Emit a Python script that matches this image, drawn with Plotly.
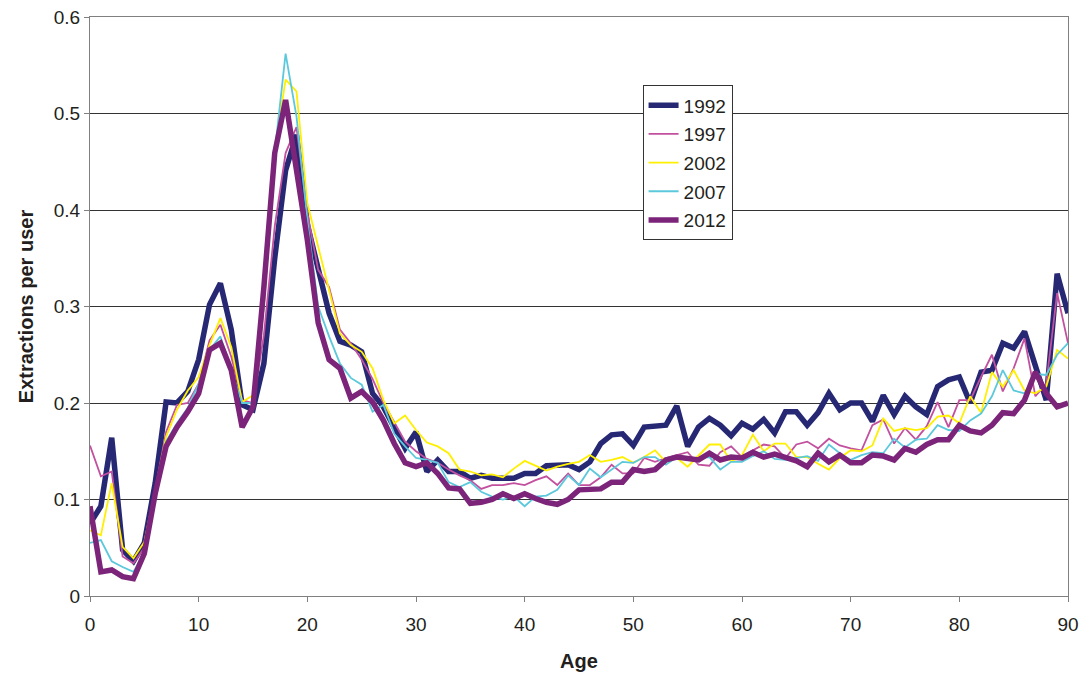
import plotly.graph_objects as go

ages = list(range(0, 91))

y1992 = [0.075, 0.093, 0.164, 0.048, 0.036, 0.055, 0.117, 0.201, 0.200, 0.212,
         0.245, 0.302, 0.324, 0.276, 0.198, 0.193, 0.241, 0.350, 0.441, 0.478,
         0.385, 0.341, 0.293, 0.264, 0.260, 0.253, 0.210, 0.196, 0.174, 0.153,
         0.170, 0.129, 0.141, 0.129, 0.129, 0.122, 0.125, 0.122, 0.122, 0.122,
         0.127, 0.127, 0.135, 0.135, 0.136, 0.131, 0.139, 0.158, 0.167, 0.168,
         0.156, 0.175, 0.176, 0.177, 0.197, 0.155, 0.175, 0.184, 0.177, 0.166,
         0.179, 0.173, 0.183, 0.169, 0.191, 0.191, 0.177, 0.190, 0.210, 0.193,
         0.200, 0.200, 0.181, 0.208, 0.188, 0.207, 0.196, 0.188, 0.217, 0.224,
         0.227, 0.200, 0.232, 0.234, 0.262, 0.257, 0.274, 0.238, 0.203, 0.334,
         0.293]

y1997 = [0.156, 0.124, 0.129, 0.041, 0.034, 0.050, 0.110, 0.170, 0.198, 0.200,
         0.220, 0.265, 0.281, 0.248, 0.203, 0.200, 0.270, 0.383, 0.459, 0.486,
         0.397, 0.338, 0.320, 0.276, 0.262, 0.245, 0.225, 0.200, 0.180, 0.160,
         0.150, 0.142, 0.138, 0.131, 0.125, 0.120, 0.111, 0.115, 0.115, 0.117,
         0.115, 0.120, 0.124, 0.115, 0.127, 0.115, 0.115, 0.123, 0.136, 0.127,
         0.127, 0.143, 0.139, 0.143, 0.146, 0.149, 0.136, 0.135, 0.149, 0.155,
         0.144, 0.151, 0.157, 0.155, 0.143, 0.157, 0.160, 0.153, 0.163, 0.156,
         0.153, 0.151, 0.177, 0.183, 0.158, 0.174, 0.162, 0.176, 0.201, 0.175,
         0.203, 0.203, 0.227, 0.250, 0.212, 0.236, 0.267, 0.207, 0.220, 0.314,
         0.262]

y2002 = [0.068, 0.063, 0.117, 0.051, 0.039, 0.056, 0.110, 0.165, 0.193, 0.213,
         0.227, 0.260, 0.288, 0.258, 0.201, 0.208, 0.300, 0.462, 0.535, 0.523,
         0.407, 0.362, 0.320, 0.272, 0.260, 0.253, 0.236, 0.203, 0.179, 0.187,
         0.172, 0.159, 0.155, 0.148, 0.131, 0.129, 0.125, 0.126, 0.123, 0.132,
         0.140, 0.135, 0.130, 0.134, 0.137, 0.139, 0.146, 0.139, 0.141, 0.144,
         0.138, 0.144, 0.151, 0.139, 0.143, 0.134, 0.146, 0.157, 0.157, 0.139,
         0.146, 0.167, 0.150, 0.158, 0.158, 0.144, 0.144, 0.137, 0.131, 0.143,
         0.151, 0.150, 0.156, 0.184, 0.171, 0.174, 0.172, 0.174, 0.186, 0.187,
         0.179, 0.207, 0.190, 0.232, 0.217, 0.234, 0.213, 0.210, 0.217, 0.255,
         0.246]

y2007 = [0.055, 0.058, 0.036, 0.030, 0.025, 0.045, 0.105, 0.160, 0.179, 0.195,
         0.220, 0.255, 0.269, 0.234, 0.200, 0.200, 0.300, 0.460, 0.562, 0.497,
         0.390, 0.300, 0.269, 0.241, 0.226, 0.219, 0.191, 0.198, 0.168, 0.155,
         0.143, 0.141, 0.138, 0.118, 0.113, 0.118, 0.108, 0.103, 0.100, 0.103,
         0.093, 0.103, 0.104, 0.110, 0.125, 0.115, 0.132, 0.123, 0.131, 0.139,
         0.138, 0.144, 0.144, 0.136, 0.144, 0.143, 0.143, 0.144, 0.131, 0.139,
         0.139, 0.145, 0.150, 0.142, 0.141, 0.143, 0.145, 0.140, 0.157, 0.148,
         0.141, 0.146, 0.149, 0.148, 0.163, 0.154, 0.162, 0.163, 0.177, 0.172,
         0.171, 0.182, 0.189, 0.207, 0.234, 0.213, 0.210, 0.230, 0.229, 0.250,
         0.262]

y2012 = [0.093, 0.025, 0.027, 0.020, 0.018, 0.044, 0.106, 0.155, 0.175, 0.191,
         0.210, 0.255, 0.262, 0.234, 0.175, 0.196, 0.320, 0.459, 0.514, 0.440,
         0.369, 0.283, 0.245, 0.236, 0.205, 0.212, 0.201, 0.182, 0.158, 0.138,
         0.134, 0.138, 0.127, 0.112, 0.111, 0.096, 0.097, 0.100, 0.106, 0.101,
         0.106, 0.101, 0.097, 0.095, 0.100, 0.110, 0.110, 0.111, 0.118, 0.118,
         0.131, 0.129, 0.131, 0.141, 0.144, 0.143, 0.141, 0.148, 0.141, 0.144,
         0.143, 0.149, 0.144, 0.147, 0.144, 0.140, 0.134, 0.148, 0.139, 0.146,
         0.138, 0.138, 0.146, 0.145, 0.141, 0.153, 0.149, 0.157, 0.162, 0.162,
         0.177, 0.171, 0.169, 0.177, 0.190, 0.189, 0.203, 0.232, 0.210, 0.196,
         0.200]

series_names = ["1992", "1997", "2002", "2007", "2012"]
series_values = [y1992, y1997, y2002, y2007, y2012]
colors = ["#262873", "#C2509F", "#FFEF00", "#5CC8DC", "#7B2479"]
widths = [5.5, 1.8, 1.8, 1.8, 5.5]

fig = go.Figure()
for name, vals, c, w in zip(series_names, series_values, colors, widths):
    fig.add_trace(go.Scatter(
        x=ages, y=vals, mode="lines", name=name, legendgroup=name,
        line=dict(color=c, width=w),
    ))

fig.update_layout(
    width=1083, height=679,
    margin=dict(l=90, r=15, t=17, b=83),
    plot_bgcolor="white", paper_bgcolor="white",
    font=dict(family="Liberation Sans, Arial, sans-serif", color="#231F20", size=18),
    showlegend=True,
    legend=dict(
        x=0.565, y=0.882, xanchor="left", yanchor="top",
        bgcolor="white", bordercolor="#333333", borderwidth=1,
        font=dict(size=19), tracegroupgap=1,
        itemwidth=30,
    ),
    xaxis=dict(
        range=[0, 90], tickvals=list(range(0, 91, 10)),
        showgrid=False, zeroline=False, automargin=False,
        showline=True, linecolor="#808080", linewidth=1, mirror=True,
        ticks="outside", ticklen=5, tickcolor="#808080",
        ticklabelstandoff=6,
        title=dict(text="<b>Age</b>", font=dict(size=20), standoff=20),
        tickfont=dict(size=19),
    ),
    yaxis=dict(
        range=[0, 0.6], tickvals=[0, 0.1, 0.2, 0.3, 0.4, 0.5, 0.6],
        ticktext=["0", "0.1", "0.2", "0.3", "0.4", "0.5", "0.6"],
        showgrid=True, gridcolor="#333333", gridwidth=1,
        zeroline=False, automargin=False,
        showline=True, linecolor="#808080", linewidth=1, mirror=True,
        ticks="outside", ticklen=5, tickcolor="#808080",
        title=dict(text="<b>Extractions per user</b>", font=dict(size=20), standoff=14),
        tickfont=dict(size=19),
    ),
)

fig.write_html("out.html")
